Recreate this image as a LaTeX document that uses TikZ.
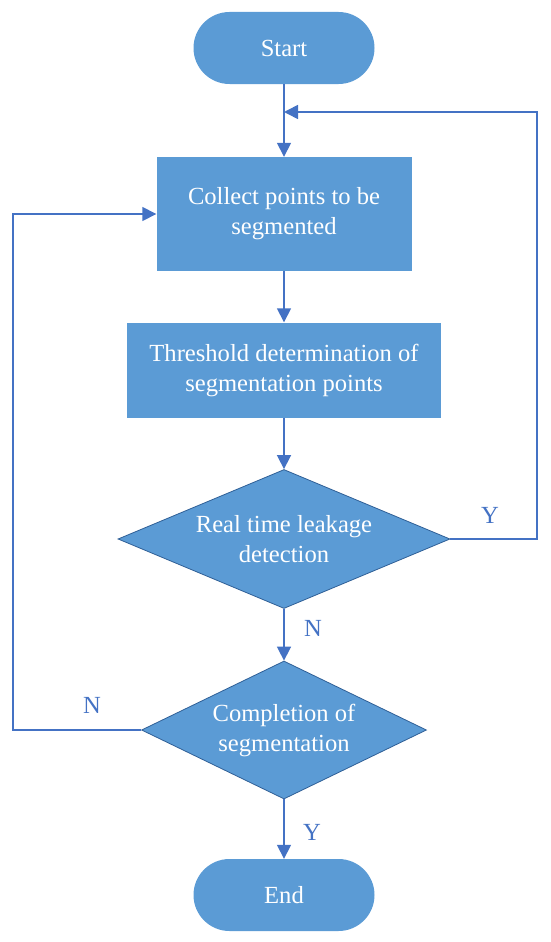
\documentclass[tikz,border=0pt]{standalone}
\usepackage{fontspec}
\setmainfont{Liberation Serif}
\usetikzlibrary{shapes.geometric,arrows.meta}
\definecolor{boxfill}{HTML}{5B9BD5}
\definecolor{linecol}{HTML}{4472C4}
\definecolor{dmdline}{HTML}{2F5F96}
\begin{document}
\begin{tikzpicture}[x=1pt,y=-1pt,
  base/.style={fill=boxfill,text=white,font=\fontsize{24.6}{30}\selectfont,align=center,inner sep=0pt},
  term/.style={base,rectangle,rounded corners=36pt,minimum width=181pt,minimum height=72pt},
  proc/.style={base,rectangle},
  dec/.style={base,diamond,draw=dmdline,line width=0.8pt},
  conn/.style={draw=linecol,line width=1.6pt},
  arr/.style={conn,-{Triangle[length=14pt,width=14pt]}},
  lbl/.style={text=linecol,font=\fontsize{24.6}{30}\selectfont,inner sep=0pt}]
\useasboundingbox (0,0) rectangle (550,942);
\node[term] (start) at (284,48) {Start};
\node[proc,minimum width=255pt,minimum height=114pt] (collect) at (284,214) {Collect points to be\\segmented};
\node[proc,minimum width=314pt,minimum height=95pt] (thresh) at (284,370) {Threshold determination of\\segmentation points};
\node[dec,aspect=2.39,minimum width=332pt,minimum height=139pt] (leak) at (284,539) {Real time leakage\\detection};
\node[dec,aspect=2.07,minimum width=285pt,minimum height=138pt] (comp) at (284,730) {Completion of\\segmentation};
\node[term] (end) at (284,895) {End};
\coordinate (merge) at (284,112);
\coordinate (yr) at (537,112);
\coordinate (nl) at (13,730);
\draw[arr] (start) -- (collect);
\draw[arr] (collect) -- (thresh);
\draw[arr] (thresh) -- (leak);
\draw[arr] (leak) -- (comp);
\draw[arr] (comp) -- (end);
\draw[arr] (leak.east) -| (yr) -- (merge);
\draw[arr] (comp.west) -- (nl) |- (collect.west);
\node[lbl] (ly1) at (490,515) {Y};
\node[lbl] (ln1) at (313,628) {N};
\node[lbl] (ln2) at (92,705) {N};
\node[lbl] (ly2) at (312,832) {Y};
\end{tikzpicture}
\end{document}
